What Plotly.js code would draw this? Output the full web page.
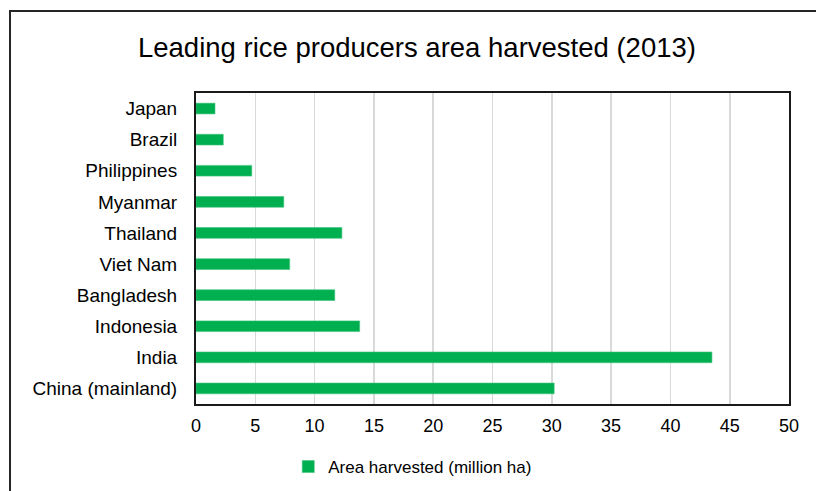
<!DOCTYPE html>
<html>
<head>
<meta charset="utf-8">
<script src="https://cdn.plot.ly/plotly-3.0.1.min.js"></script>
<style>
  html, body { margin: 0; padding: 0; background: #ffffff; }
  #wrap { position: relative; width: 816px; height: 491px; overflow: hidden; }
  #chart { position: absolute; left: 0; top: 0; width: 816px; height: 491px; }
  /* chart-area frame: only the top and left edges fall inside the view */
  #frame { position: absolute; left: 9px; top: 10px; width: 900px; height: 600px;
           border-left: 2px solid #262626; border-top: 2px solid #262626; pointer-events: none; }
</style>
</head>
<body>
<div id="wrap">
  <div id="chart"></div>
  <div id="frame"></div>
</div>
<script>
// Area harvested of the leading rice producers, 2013 (million ha)
const countries = ["China (mainland)", "India", "Indonesia", "Bangladesh", "Viet Nam",
                   "Thailand", "Myanmar", "Philippines", "Brazil", "Japan"];
const areaHarvested = [30.2, 43.5, 13.8, 11.7, 7.9, 12.3, 7.4, 4.7, 2.3, 1.6];
const xTicks = [0, 5, 10, 15, 20, 25, 30, 35, 40, 45, 50];

const FONT = "Liberation Sans, Arial, sans-serif";

const trace = {
  type: "bar",
  orientation: "h",
  y: countries,
  x: areaHarvested,
  name: "Area harvested (million ha)",
  marker: { color: "#00b050", line: { color: "#3cc27a", width: 0.6 } },
  hoverinfo: "x+y"
};

const layout = {
  width: 816,
  height: 491,
  margin: { l: 196, r: 27, t: 93, b: 87, autoexpand: false },
  paper_bgcolor: "#ffffff",
  plot_bgcolor: "#ffffff",
  font: { family: FONT, color: "#000000", size: 18 },
  title: {
    text: "Leading rice producers area harvested (2013)",
    font: { family: FONT, size: 27.5, color: "#000000" },
    x: 0.511, xref: "container", xanchor: "center",
    y: 0.904, yref: "container", yanchor: "middle"
  },
  bargap: 0.655,
  xaxis: {
    range: [0, 50],
    tickvals: xTicks,
    ticktext: xTicks.map(String),
    showgrid: true,
    gridcolor: "#d9d9d9",
    gridwidth: 1.6,
    zeroline: false,
    showline: true,
    linecolor: "#1a1a1a",
    linewidth: 2,
    mirror: true,
    ticks: "",
    ticklen: 0,
    ticklabelstandoff: 4,
    tickfont: { family: FONT, size: 18, color: "#000000" },
    fixedrange: true
  },
  yaxis: {
    type: "category",
    categoryorder: "array",
    categoryarray: countries,
    showgrid: false,
    zeroline: false,
    showline: true,
    linecolor: "#1a1a1a",
    linewidth: 2,
    mirror: true,
    ticks: "",
    ticklabelstandoff: 13,
    tickfont: { family: FONT, size: 19, color: "#000000" },
    fixedrange: true
  },
  showlegend: true,
  legend: {
    orientation: "h",
    x: 0.3655, xanchor: "center",
    y: -0.2026, yanchor: "middle",
    font: { family: FONT, size: 17, color: "#000000" },
    itemwidth: 30,
    bgcolor: "rgba(0,0,0,0)"
  }
};

Plotly.newPlot("chart", [trace], layout, { displayModeBar: false, staticPlot: true });
</script>
</body>
</html>
